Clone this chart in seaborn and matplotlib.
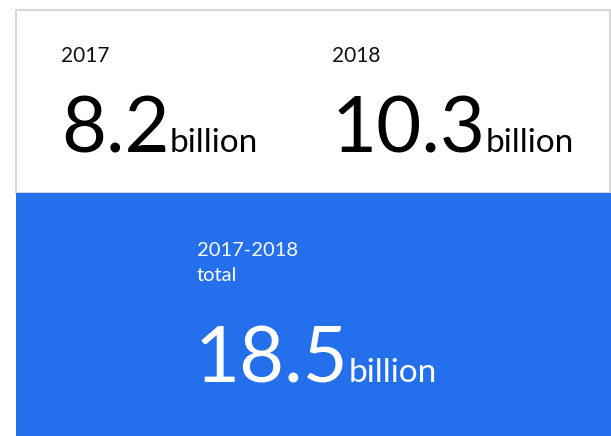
import matplotlib
matplotlib.use('Agg')
import matplotlib.pyplot as plt
import seaborn as sns
from matplotlib.patches import Rectangle

sns.set_style('white')
plt.rcParams['font.family'] = ['Lato', 'DejaVu Sans']

# Data
YEARS = ['2017', '2018']
VALUES = ['8.2', '10.3']
TOTAL_LABEL = ['2017-2018', 'total']
TOTAL_VALUE = '18.5'
UNIT = 'billion'

BLUE = '#236fec'
W, H = 611, 436

fig = plt.figure(figsize=(W / 100, H / 100), dpi=100)
ax = fig.add_axes([0, 0, 1, 1])
ax.set_xlim(0, W)
ax.set_ylim(H, 0)
ax.axis('off')

# panels
ax.add_patch(Rectangle((16, 10), W - 17, 183, facecolor='white',
                       edgecolor='#cfcfcf', lw=1.2))
ax.add_patch(Rectangle((16, 193), W - 16, H - 193, facecolor=BLUE,
                       edgecolor='none'))

fig.canvas.draw()
renderer = fig.canvas.get_renderer()


def big_number(x, y, value, color, size=56, unit_size=24):
    t = ax.text(x, y, value, fontsize=size, color=color, ha='left',
                va='baseline')
    bb = t.get_window_extent(renderer)
    x_end = ax.transData.inverted().transform((bb.x1, bb.y0))[0]
    ax.text(x_end, y, UNIT, fontsize=unit_size, color=color,
            ha='left', va='baseline')


xs = [61, 332]
for x, year, val in zip(xs, YEARS, VALUES):
    ax.text(x, 62, year, fontsize=15, color='#111111', ha='left',
            va='baseline')
    big_number(x, 152, val, '#000000')

for i, line in enumerate(TOTAL_LABEL):
    ax.text(197, 256 + 25 * i, line, fontsize=14.5, color='white',
            ha='left', va='baseline')
big_number(195, 382, TOTAL_VALUE, 'white')

fig.savefig('out.png', dpi=100)
